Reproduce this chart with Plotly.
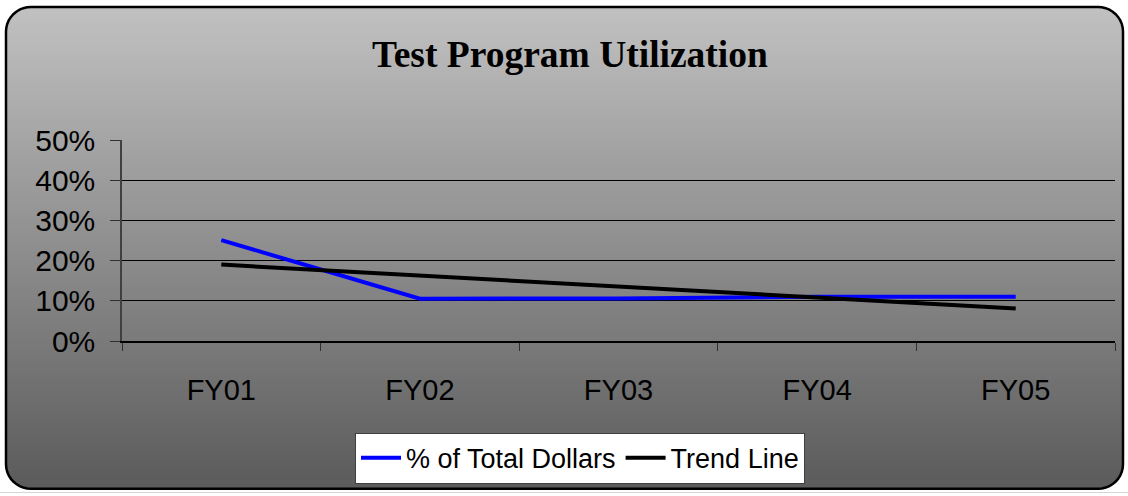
import plotly.graph_objects as go

# dados
anos = ['FY01', 'FY02', 'FY03', 'FY04', 'FY05']
pct_total_dollars = [0.251, 0.105, 0.106, 0.110, 0.110]
trend_line = [0.190, 0.163, 0.135, 0.108, 0.081]

W, H = 1128, 496
L, R, T, B = 122, 13, 140, 152
PW, PH = W - L - R, H - T - B


def X(px):
    return (px - L) / PW


def Y(py):
    return (H - B - py) / PH


def rounded_path(x0, y0, x1, y1, r, n=10):
    import math
    pts = []
    corners = [(x1 - r, y0 + r, -90, 0), (x1 - r, y1 - r, 0, 90),
               (x0 + r, y1 - r, 90, 180), (x0 + r, y0 + r, 180, 270)]
    for cx, cy, a0, a1 in corners:
        for i in range(n + 1):
            a = math.radians(a0 + (a1 - a0) * i / n)
            pts.append((cx + r * math.cos(a), cy + r * math.sin(a)))
    return 'M ' + ' L '.join(f'{X(px):.5f},{Y(py):.5f}' for px, py in pts) + ' Z'


fig = go.Figure()

fig.add_trace(go.Scatter(x=anos, y=pct_total_dollars, mode='lines', name='% of Total Dollars',
                         line=dict(color='#0000ff', width=4)))
fig.add_trace(go.Scatter(x=anos, y=trend_line, mode='lines', name='Trend Line',
                         line=dict(color='#000000', width=4)))

# fundo em degradê (faixas sobrepostas até o fim, para não ficar com emendas)
shapes = []
for py in range(0, H, 2):
    v = int(round(194 - 104 * py / H))
    shapes.append(dict(type='rect', xref='paper', yref='paper', layer='below',
                       x0=X(-2), x1=X(W + 2), y0=Y(py), y1=Y(H + 2),
                       fillcolor=f'rgb({v},{v},{v})', line=dict(width=0)))

# máscara branca fora do retângulo arredondado + borda
outer = f'M {X(-2)},{Y(-2)} L {X(W + 2)},{Y(-2)} L {X(W + 2)},{Y(H + 2)} L {X(-2)},{Y(H + 2)} Z '
shapes.append(dict(type='path', xref='paper', yref='paper', layer='below',
                   path=outer + rounded_path(6, 5, 1123, 494, 25),
                   fillrule='evenodd', fillcolor='white', line=dict(width=0)))
shapes.append(dict(type='path', xref='paper', yref='paper', layer='below',
                   path=rounded_path(6, 5, 1123, 494, 25),
                   line=dict(color='black', width=2.5)))

fig.update_layout(
    width=W, height=H,
    margin=dict(l=L, r=R, t=T, b=B),
    paper_bgcolor='white',
    plot_bgcolor='rgba(0,0,0,0)',
    shapes=shapes,
    title=dict(text='<b>Test Program Utilization</b>', x=570 / W, xanchor='center',
               y=1 - 54 / H, yanchor='middle',
               font=dict(family='Liberation Serif, Times New Roman, serif', size=37.5, color='black')),
    font=dict(family='Liberation Sans, Arial, sans-serif', color='black'),
    showlegend=True,
    legend=dict(orientation='h', x=X(580), xanchor='center', y=Y(463), yanchor='middle',
                bgcolor='white', bordercolor='#404040', borderwidth=1,
                font=dict(size=27, color='black'), itemwidth=40,
                traceorder='normal'),
)

fig.update_yaxes(range=[0, 0.5], dtick=0.1, tickformat='.0%',
                 showgrid=True, gridcolor='black', gridwidth=1,
                 ticks='outside', ticklen=10, tickcolor='#303030',
                 showline=True, linecolor='#404040', linewidth=1.5,
                 zeroline=False, ticklabelstandoff=9,
                 tickfont=dict(size=30, color='black'))

fig.update_xaxes(type='category', range=[-0.5, 4.5], tickson='boundaries',
                 showgrid=False, ticks='outside', ticklen=8, tickcolor='#303030',
                 showline=True, linecolor='black', linewidth=1.5,
                 ticklabelstandoff=22,
                 tickfont=dict(size=29, color='black'))

fig.write_html('out.html', config={'displayModeBar': False},
               post_script="document.body.style.margin='0';")
